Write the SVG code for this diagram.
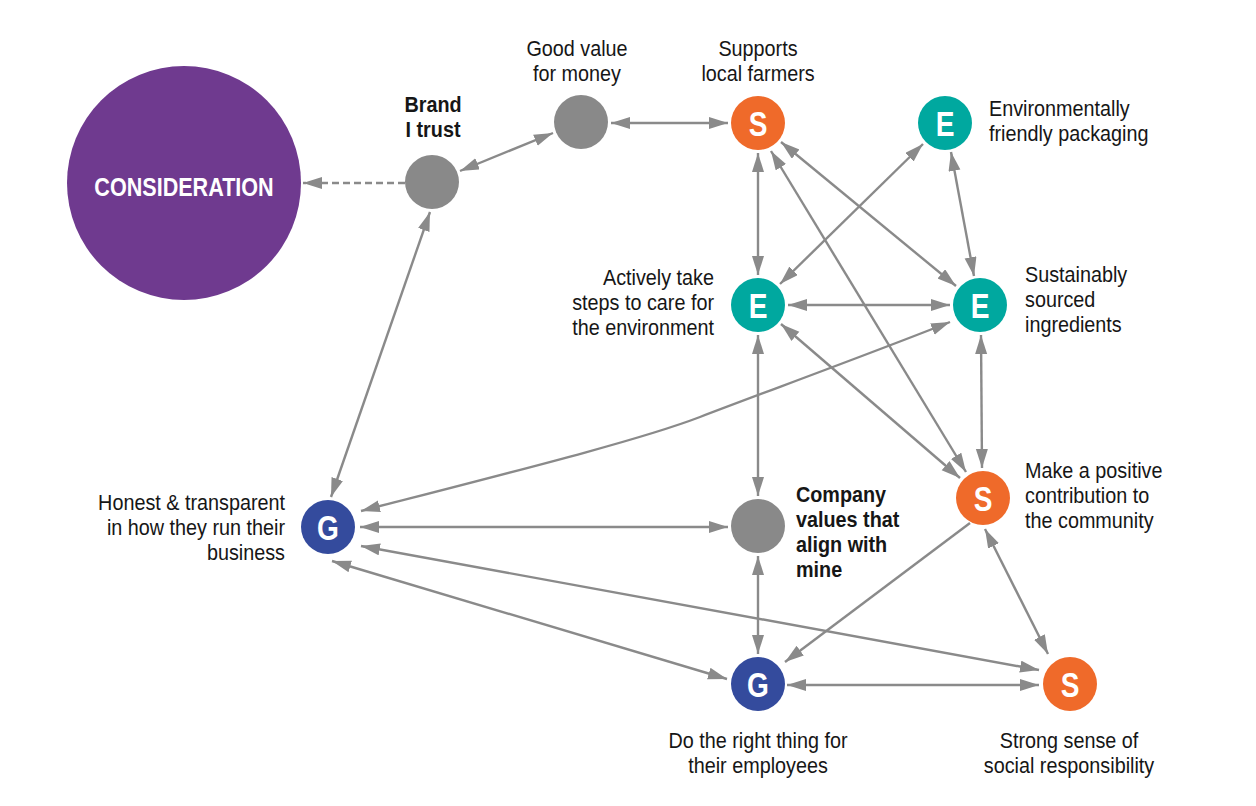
<svg xmlns="http://www.w3.org/2000/svg" width="1256" height="806" viewBox="0 0 1256 806">
<style>
.t{font-family:"Liberation Sans",Arial,sans-serif;font-size:22px;fill:#161616}
.b{font-weight:bold}
.m{text-anchor:middle}
.e{text-anchor:end}
.L{font-family:"Liberation Sans",Arial,sans-serif;font-weight:bold;font-size:36px;fill:#fff;text-anchor:middle}
.c{fill:none;stroke:#8a8a8a;stroke-width:2.4}
.ar{marker-start:url(#ah);marker-end:url(#ah)}
.one{marker-end:url(#ah)}
.gray{fill:#898989}.S{fill:#ef6a2a}.E{fill:#00a89f}.G{fill:#344b9d}
</style>
<defs>
<marker id="ah" markerUnits="userSpaceOnUse" markerWidth="21" markerHeight="13" refX="19" refY="6" orient="auto-start-reverse" viewBox="0 0 21 13">
<path d="M0,0 L19,6 L0,12 Z" fill="#8a8a8a"/>
</marker>
</defs>
<rect width="1256" height="806" fill="#fff"/>
<g id="connectors">
<line class="c one" x1="405" y1="183" x2="303" y2="183" stroke-dasharray="7 4"/>
<line class="c ar" x1="460" y1="171" x2="553" y2="133"/>
<line class="c ar" x1="611" y1="123" x2="728" y2="123"/>
<line class="c ar" x1="758" y1="153" x2="758" y2="275"/>
<line class="c ar" x1="781" y1="142" x2="956" y2="286"/>
<line class="c ar" x1="771" y1="151" x2="966" y2="472"/>
<line class="c ar" x1="923" y1="144" x2="780" y2="284"/>
<line class="c ar" x1="951" y1="152" x2="974" y2="276"/>
<line class="c ar" x1="788" y1="305" x2="950" y2="305"/>
<line class="c ar" x1="781" y1="324" x2="960" y2="478"/>
<line class="c ar" x1="758" y1="335" x2="758" y2="496"/>
<line class="c ar" x1="981" y1="335" x2="982" y2="468"/>
<path class="c ar" d="M361,511 C520,470 640,440 700,417 S880,350 950,322"/>
<line class="c ar" x1="331" y1="497" x2="430" y2="212"/>
<line class="c ar" x1="360" y1="527" x2="728" y2="527"/>
<line class="c ar" x1="361" y1="546" x2="1039" y2="670"/>
<line class="c ar" x1="332" y1="561" x2="727" y2="679"/>
<line class="c ar" x1="758" y1="556" x2="758" y2="654"/>
<line class="c one" x1="970" y1="523" x2="785" y2="662"/>
<line class="c ar" x1="985" y1="529" x2="1048" y2="654"/>
<line class="c ar" x1="787" y1="685" x2="1039" y2="685"/>
</g>
<g id="consideration">
<circle cx="184" cy="183" r="117" fill="#6f3a8f"/>
<text transform="matrix(0.83 0 0 1 184 0)" x="0" y="196" class="m" style="font-family:'Liberation Sans',Arial,sans-serif;font-weight:bold;font-size:26px;fill:#fff">CONSIDERATION</text>
</g>
<g id="brand">
<circle cx="432" cy="182" r="27" class="gray"/>
<text class="t b m" transform="matrix(0.9 0 0 1 433 0)"><tspan x="0" y="112">Brand</tspan><tspan x="0" y="137">I trust</tspan></text>
</g>
<g id="good-value">
<circle cx="581" cy="122" r="27" class="gray"/>
<text class="t m" transform="matrix(0.9 0 0 1 577 0)"><tspan x="0" y="56">Good value</tspan><tspan x="0" y="81">for money</tspan></text>
</g>
<g id="supports-farmers">
<circle cx="758" cy="123" r="27" class="S"/>
<text class="L" transform="matrix(0.78 0 0 1 758 0)" x="0" y="136">S</text>
<text class="t m" transform="matrix(0.9 0 0 1 758 0)"><tspan x="0" y="56">Supports</tspan><tspan x="0" y="81">local farmers</tspan></text>
</g>
<g id="packaging">
<circle cx="945" cy="123" r="27" class="E"/>
<text class="L" transform="matrix(0.78 0 0 1 945 0)" x="0" y="136">E</text>
<text class="t" transform="matrix(0.9 0 0 1 989 0)"><tspan x="0" y="116">Environmentally</tspan><tspan x="0" y="141">friendly packaging</tspan></text>
</g>
<g id="care-environment">
<circle cx="758" cy="305" r="27" class="E"/>
<text class="L" transform="matrix(0.78 0 0 1 758 0)" x="0" y="318">E</text>
<text class="t e" transform="matrix(0.9 0 0 1 714 0)"><tspan x="0" y="285">Actively take</tspan><tspan x="0" y="310">steps to care for</tspan><tspan x="0" y="335">the environment</tspan></text>
</g>
<g id="sustainably-sourced">
<circle cx="980" cy="305" r="27" class="E"/>
<text class="L" transform="matrix(0.78 0 0 1 980 0)" x="0" y="318">E</text>
<text class="t" transform="matrix(0.9 0 0 1 1025 0)"><tspan x="0" y="282">Sustainably</tspan><tspan x="0" y="307">sourced</tspan><tspan x="0" y="332">ingredients</tspan></text>
</g>
<g id="positive-contribution">
<circle cx="983" cy="498" r="27" class="S"/>
<text class="L" transform="matrix(0.78 0 0 1 983 0)" x="0" y="511">S</text>
<text class="t" transform="matrix(0.9 0 0 1 1025 0)"><tspan x="0" y="478">Make a positive</tspan><tspan x="0" y="503">contribution to</tspan><tspan x="0" y="528">the community</tspan></text>
</g>
<g id="honest-transparent">
<circle cx="328" cy="527" r="27" class="G"/>
<text class="L" transform="matrix(0.78 0 0 1 328 0)" x="0" y="540">G</text>
<text class="t e" transform="matrix(0.9 0 0 1 285 0)"><tspan x="0" y="510">Honest &amp; transparent</tspan><tspan x="0" y="535">in how they run their</tspan><tspan x="0" y="560">business</tspan></text>
</g>
<g id="company-values">
<circle cx="758" cy="526" r="27" class="gray"/>
<text class="t b" transform="matrix(0.9 0 0 1 796 0)"><tspan x="0" y="502">Company</tspan><tspan x="0" y="527">values that</tspan><tspan x="0" y="552">align with</tspan><tspan x="0" y="577">mine</tspan></text>
</g>
<g id="right-thing-employees">
<circle cx="758" cy="684" r="27" class="G"/>
<text class="L" transform="matrix(0.78 0 0 1 758 0)" x="0" y="697">G</text>
<text class="t m" transform="matrix(0.9 0 0 1 758 0)"><tspan x="0" y="748">Do the right thing for</tspan><tspan x="0" y="773">their employees</tspan></text>
</g>
<g id="social-responsibility">
<circle cx="1070" cy="684" r="27" class="S"/>
<text class="L" transform="matrix(0.78 0 0 1 1070 0)" x="0" y="697">S</text>
<text class="t m" transform="matrix(0.9 0 0 1 1069 0)"><tspan x="0" y="748">Strong sense of</tspan><tspan x="0" y="773">social responsibility</tspan></text>
</g>
</svg>
